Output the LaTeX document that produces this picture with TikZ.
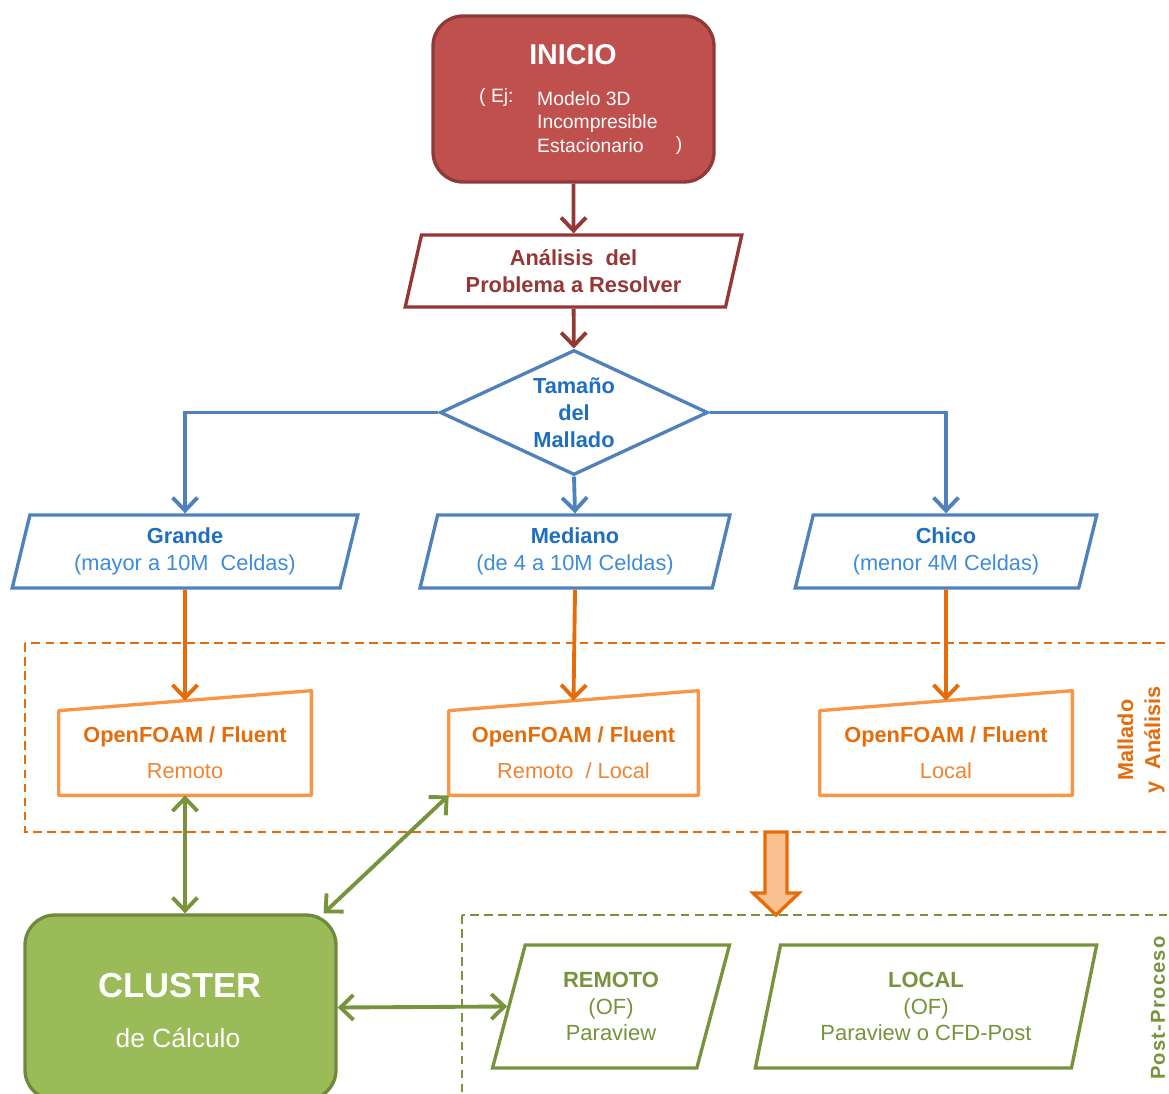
\documentclass[tikz,border=0pt]{standalone}
\usepackage{fontspec}
\setmainfont{Liberation Sans}
\newfontfamily\spacedfont[LetterSpace=6]{Liberation Sans}
\usetikzlibrary{shapes.geometric,arrows.meta,positioning}

\definecolor{startfill}{HTML}{C0504D}
\definecolor{startdraw}{HTML}{8E3A38}
\definecolor{redline}{HTML}{953735}
\definecolor{blueline}{HTML}{4F81BD}
\definecolor{bluetext}{HTML}{1F6FC0}
\definecolor{bluelight}{HTML}{3C8CDA}
\definecolor{orangeline}{HTML}{E46C0A}
\definecolor{orangebox}{HTML}{F79646}
\definecolor{orangelight}{HTML}{EF8433}
\definecolor{orangefill}{HTML}{FAC090}
\definecolor{greenline}{HTML}{77933C}
\definecolor{greenfill}{HTML}{9BBB59}
\definecolor{greendraw}{HTML}{71893F}

\newcommand\flowfont{\fontsize{12.4}{15.3}\selectfont}

\begin{document}
\begin{tikzpicture}[x=0.02cm,y=-0.02cm,>={Straight Barb[length=0.26cm,width=0.5cm]},
  startbox/.style={rounded corners=0.6cm,draw=startdraw,fill=startfill,line width=1.9pt,minimum width=5.62cm,minimum height=3.32cm},
  iobox/.style={trapezium,trapezium left angle=75,trapezium right angle=105,trapezium stretches=true,fill=white,line width=1.9pt,inner sep=0pt,align=center,font=\flowfont},
  decision/.style={diamond,draw=blueline,fill=white,line width=1.9pt,minimum width=5.36cm,minimum height=2.5cm,aspect=2.1,inner sep=0pt,align=center,font=\flowfont\bfseries,text=bluetext},
  solver/.style={minimum height=1.68cm,inner sep=0pt,align=center,font=\fontsize{12.4}{20.4}\selectfont},
  solverline/.style={draw=orangebox,line width=1.9pt,line join=round},
  clusterbox/.style={rounded corners=0.6cm,draw=greendraw,fill=greenfill,line width=1.9pt,minimum width=6.22cm,minimum height=3.7cm},
  region/.style={line width=1.2pt,dash pattern=on 5pt off 3pt},
  redarrow/.style={->,draw=redline,line width=2.2pt},
  bluearrow/.style={->,draw=blueline,line width=2.2pt},
  orangearrow/.style={->,draw=orangeline,line width=2.2pt},
  greenarrow/.style={<->,draw=greenline,line width=2.2pt}]

\useasboundingbox (0,0) rectangle (1169,1094);
\clip (0,0) rectangle (1169,1094);

% zonas de trabajo
\draw[region,draw=orangeline] (25,643) rectangle (1200,832);
\draw[region,draw=greenline] (462,915) rectangle (1200,1120);

% inicio
\node[startbox] (inicio) at (573.5,99) {};
\node[text=white,font=\bfseries\fontsize{16.3}{19}\selectfont] (iniciotit) at (573,55) {INICIO};
\node[text=white,font=\fontsize{11}{13.6}\selectfont,anchor=west] (ej) at (473,98) {( Ej:};
\node[text=white,font=\fontsize{11}{13.6}\selectfont,anchor=west,align=left] (modelo) at (531,122) {Modelo 3D\\Incompresible\\Estacionario};
\node[text=white,font=\fontsize{11}{13.6}\selectfont] (cierre) at (679,146) {)};

\node[iobox,draw=redline,text=redline,font=\flowfont\bfseries,minimum width=6.74cm,minimum height=1.44cm] (analisis) at (573.5,271) {Análisis~ del\\Problema a Resolver};
\node[decision] (tamano) at (574,412.5) {Tamaño\\del\\Mallado};

% tamano de malla
\node[iobox,draw=blueline,text=bluelight,minimum width=6.92cm,minimum height=1.46cm] (grande) at (185,551.5) {\textcolor{bluetext}{\textbf{Grande}}\\(mayor a 10M~ Celdas)};
\node[iobox,draw=blueline,text=bluelight,minimum width=6.2cm,minimum height=1.46cm] (mediano) at (575,551.5) {\textcolor{bluetext}{\textbf{Mediano}}\\(de 4 a 10M Celdas)};
\node[iobox,draw=blueline,text=bluelight,minimum width=6.04cm,minimum height=1.46cm] (chico) at (946,551.5) {\textcolor{bluetext}{\textbf{Chico}}\\(menor 4M Celdas)};

% mallado y analisis
\node[solver,minimum width=5.04cm] (ofgrande) at (185,753) {\textcolor{orangeline}{\textbf{OpenFOAM / Fluent}}\\\textcolor{orangelight}{Remoto}};
\node[solver,minimum width=4.98cm] (ofmediano) at (573.5,753) {\textcolor{orangeline}{\textbf{OpenFOAM / Fluent}}\\\textcolor{orangelight}{Remoto~ / Local}};
\node[solver,minimum width=5.04cm] (ofchico) at (946,753) {\textcolor{orangeline}{\textbf{OpenFOAM / Fluent}}\\\textcolor{orangelight}{Local}};
\foreach \n in {ofgrande,ofmediano,ofchico}
  \draw[solverline] (\n.south west) -- (\n.north west) -- ([yshift=0.4cm]\n.north east) -- (\n.south east) -- cycle;
\node[rotate=90,align=center,text=orangeline,font=\bfseries\fontsize{12.3}{15.3}\selectfont] (mallabel) at (1141,740) {Mallado\\y~ Análisis};

% cluster
\node[clusterbox] (cluster) at (180.5,1007.5) {};
\node[text=white,font=\bfseries\fontsize{19.7}{23}\selectfont] (clustertit) at (180,986) {CLUSTER};
\node[text=white,font=\fontsize{15}{18}\selectfont] (clustersub) at (178,1038) {de Cálculo};

% post-proceso
\node[iobox,draw=greenline,text=greenline,font=\fontsize{12.5}{15}\selectfont,minimum width=4.76cm,minimum height=2.46cm] (remoto) at (611,1006.5) {\textbf{REMOTO}\\(OF)\\Paraview};
\node[iobox,draw=greenline,text=greenline,font=\fontsize{12.5}{15}\selectfont,minimum width=6.84cm,minimum height=2.46cm] (local) at (926,1006.5) {\textbf{LOCAL}\\(OF)\\Paraview o CFD-Post};
\node[rotate=90,text=greenline,font=\spacedfont\bfseries\fontsize{11.5}{14}\selectfont] (postlabel) at (1158,1008) {Post-Proceso};

% flecha de bloque
\coordinate (flujo) at (776,832);
\coordinate (flujofin) at (776,915);
\draw[draw=orangeline,fill=orangefill,line width=1.9pt] (flujo) ++(-11,0) -- ++(0,61) -- ++(-12,0) -- (flujofin) -- ++(23,-22) -- ++(-12,0) -- ++(0,-61) -- cycle;

% conectores
\path (inicio) edge[redarrow] (analisis)
      (analisis) edge[redarrow] (tamano);
\draw[bluearrow] (tamano.west) -| (grande.north);
\draw[bluearrow] (tamano.south) -- (mediano.north);
\draw[bluearrow] (tamano.east) -| (chico.north);
\foreach \a/\b in {grande/ofgrande,mediano/ofmediano,chico/ofchico}
  \draw[orangearrow] (\a.south) -- ([yshift=0.2cm]\b.north);
\draw[greenarrow] (ofgrande.south) -- (ofgrande.south |- cluster.north);
\draw[greenarrow] (ofmediano.south west) -- ([xshift=-0.28cm]cluster.north east);
\draw[greenarrow] (cluster.east) -- (remoto.west);
\end{tikzpicture}
\end{document}
